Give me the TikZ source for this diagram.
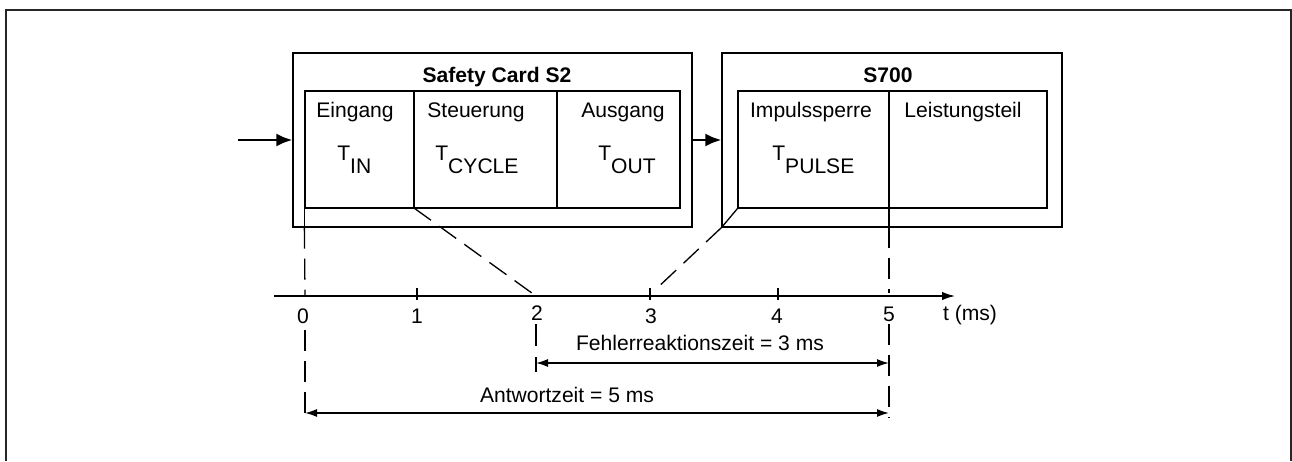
\documentclass[tikz,border=0pt]{standalone}
\usepackage{fontspec}
\setmainfont{Liberation Sans}
\usetikzlibrary{arrows.meta}

\newcommand{\tsub}[1]{T\raisebox{-0.62em}{#1}}

\tikzset{
    box/.style={draw, line width=0.75pt, inner sep=0pt},
    thinline/.style={line width=0.75pt},
    dashline/.style={line width=0.75pt, dash pattern=on 0.42cm off 0.2cm},
    feed/.style={line width=1.4pt, -{Latex[length=3.2mm, width=2.6mm]}},
    dim/.style={line width=0.85pt, {Latex[length=2.4mm, width=1.6mm]}-{Latex[length=2.4mm, width=1.6mm]}},
    txt/.style={font=\fontsize{12}{14}\selectfont, inner sep=0pt, anchor=base},
}

\begin{document}
\begin{tikzpicture}[x=0.02cm, y=-0.02cm]
    \useasboundingbox (0,0) rectangle (1292,461);
    % frame, open at the bottom
    \draw[line width=0.9pt, black!85] (6,461) -- (6,10) -- (1291,10) -- (1291,461);

    % Safety Card S2
    \node[box, minimum width=7.98cm, minimum height=3.48cm] (s2) at (492.5,140) {};
    \node[box, minimum width=7.5cm, minimum height=2.34cm] (s2in) at (492.5,149.5) {};
    \node[txt, font=\fontsize{12}{14}\selectfont\bfseries] (s2title) at (497,82) {Safety Card S2};
    \coordinate (d1) at (414,208);
    \coordinate (d2) at (557,208);
    \draw[thinline] (s2in.north -| d1) -- (d1);
    \draw[thinline] (s2in.north -| d2) -- (d2);
    \draw[thinline] (s2in.south west) -- (s2in.south west |- s2.south);
    \node[txt] (ein) at (355,117) {Eingang};
    \node[txt] (steu) at (476,117) {Steuerung};
    \node[txt] (aus) at (623,117) {Ausgang};
    \node[txt, anchor=base west] (tin) at (337,160) {\tsub{IN}};
    \node[txt, anchor=base west] (tcyc) at (435,160) {\tsub{CYCLE}};
    \node[txt, anchor=base west] (tout) at (598,160) {\tsub{OUT}};

    % S700
    \node[box, minimum width=6.8cm, minimum height=3.48cm] (s7) at (892,140) {};
    \node[box, minimum width=6.18cm, minimum height=2.34cm] (s7in) at (892.5,149.5) {};
    \node[txt, font=\fontsize{12}{14}\selectfont\bfseries] (s7title) at (888,82) {S700};
    \coordinate (d3) at (889,227);
    \draw[thinline] (s7in.north -| d3) -- (d3);
    \draw[thinline] (s7in.south west) -- (s7.south west);
    \node[txt] (imp) at (811,117) {Impulssperre};
    \node[txt] (leis) at (963,117) {Leistungsteil};
    \node[txt, anchor=base west] (tpul) at (772,160) {\tsub{PULSE}};

    % signal flow
    \coordinate (inp) at (238,140);
    \draw[feed] (inp) -- (s2.west);
    \draw[feed] (s2.east) -- (s7.west);

    % time axis
    \coordinate (ax0) at (274,296);
    \coordinate (ax1) at (955,296);
    \draw[line width=0.85pt, -{Latex[length=2.6mm, width=1.7mm]}] (ax0) -- (ax1);
    \draw[thinline] (417,288) -- (417,300);
    \draw[thinline] (650,288) -- (650,300);
    \draw[thinline] (778,288) -- (778,300);
    \node[txt] (l0) at (303,323) {0};
    \node[txt] (l1) at (417,323) {1};
    \node[txt] (l2) at (537,320) {2};
    \node[txt] (l3) at (651,323) {3};
    \node[txt] (l4) at (777,323) {4};
    \node[txt] (l5) at (889,321) {5};
    \node[txt] (lt) at (970,320) {t (ms)};

    % projections onto the axis
    \coordinate (t0) at (305,296);
    \coordinate (t2) at (536,296);
    \coordinate (t3) at (655,290);
    \coordinate (t5) at (889,293);
    \draw[dashline] (s2in.south west |- s2.south) -- (t0);
    \draw[dashline] (d1) -- (t2);
    \draw[dashline] (s7.south west) -- (t3);
    \draw[dashline] (d3) -- (t5);

    % reaction and response times
    \coordinate (f0) at (536,363);
    \coordinate (f1) at (889,363);
    \coordinate (a0) at (305,413);
    \coordinate (a1) at (889,413);
    \draw[thinline, dash pattern=on 0.44cm off 0.22cm on 0.32cm off 1cm] (536,324) -- (536,372);
    \draw[dashline] (305,330) -- (a0 |- 0,418);
    \draw[dashline] (889,324) -- (a1 |- 0,418);
    \draw[dim] (f0) -- (f1);
    \draw[dim] (a0) -- (a1);
    \node[txt] (fehl) at (700,350) {Fehlerreaktionszeit = 3 ms};
    \node[txt] (antw) at (567,402) {Antwortzeit = 5 ms};
\end{tikzpicture}
\end{document}
